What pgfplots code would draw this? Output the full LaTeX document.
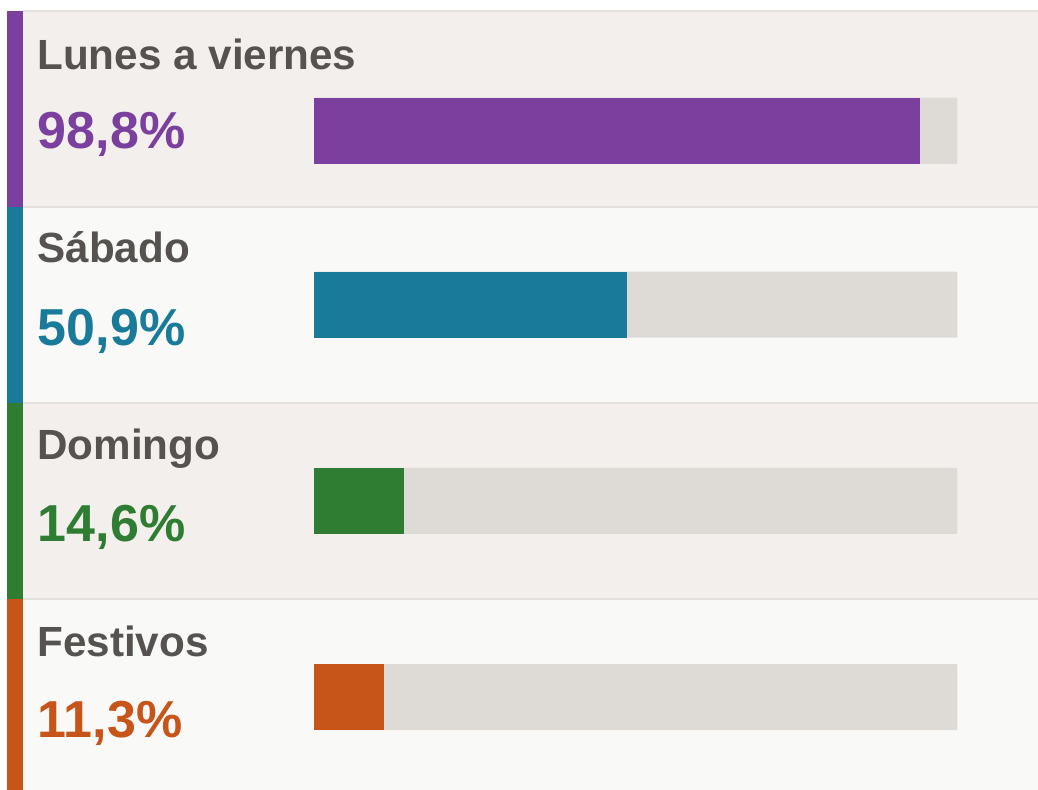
\documentclass[border=0pt]{standalone}
\usepackage{pgfplots}
\pgfplotsset{compat=1.18}
\usepackage{fontspec}
\setmainfont{Liberation Sans}
\definecolor{cPur}{HTML}{7B3F9E}
\definecolor{cTeal}{HTML}{1A7A99}
\definecolor{cGreen}{HTML}{2E7D32}
\definecolor{cOrange}{HTML}{C75418}
\definecolor{cText}{HTML}{555250}
\definecolor{bgA}{HTML}{F2EFEC}
\definecolor{bgB}{HTML}{F9F9F8}
\definecolor{track}{HTML}{DEDBD7}
\definecolor{sep}{HTML}{E5E1DD}
\begin{document}
\begin{tikzpicture}
\begin{scope}[x=0.5pt,y=-0.5pt]
\path[use as bounding box] (0,0) rectangle (1038,790);
\fill[white] (0,0) rectangle (1038,790);
\fill[bgA] (23,10.7) rectangle (1038,206.7);
\fill[bgB] (23,206.7) rectangle (1038,402.7);
\fill[bgA] (23,402.7) rectangle (1038,599);
\fill[bgB] (23,599) rectangle (1038,790);
\foreach \y in {10.7,206.7,402.7,599} \draw[sep,line width=1pt] (23,\y) -- (1038,\y);
\fill[cPur] (7.3,10.7) rectangle (23.3,206.7);
\fill[cTeal] (7.3,206.7) rectangle (23.3,402.7);
\fill[cGreen] (7.3,402.7) rectangle (23.3,599);
\fill[cOrange] (7.3,599) rectangle (23.3,790);
\end{scope}
\begin{axis}[at={(157.15pt,0pt)}, anchor=north west, scale only axis,
  width=321.5pt, height=395pt, xmin=0, xmax=104.8, ymin=-790, ymax=0,
  hide axis, clip=false]
\fill[track, rounded corners=0.5pt] (axis cs:0,-97.7) rectangle (axis cs:104.8,-164);
\fill[track, rounded corners=0.5pt] (axis cs:0,-271.7) rectangle (axis cs:104.8,-337.7);
\fill[track, rounded corners=0.5pt] (axis cs:0,-468) rectangle (axis cs:104.8,-534);
\fill[track, rounded corners=0.5pt] (axis cs:0,-664) rectangle (axis cs:104.8,-730);
\addplot[xbar, bar shift=0pt, bar width=66.3, fill=cPur, draw=none] coordinates {(98.8,-130.85)};
\addplot[xbar, bar shift=0pt, bar width=66, fill=cTeal, draw=none] coordinates {(50.9,-304.7)};
\addplot[xbar, bar shift=0pt, bar width=66, fill=cGreen, draw=none] coordinates {(14.6,-501)};
\addplot[xbar, bar shift=0pt, bar width=66, fill=cOrange, draw=none] coordinates {(11.3,-697)};
\end{axis}
\begin{scope}[x=0.5pt,y=-0.5pt]
\tikzset{tt/.style={anchor=base west, inner sep=0pt, text=cText, font=\fontsize{21.1}{25}\selectfont\bfseries},
         pp/.style={anchor=base west, inner sep=0pt, font=\fontsize{26}{30}\selectfont\bfseries}}
\node[tt] at (37,69.5) {Lunes a viernes};
\node[pp, text=cPur] at (37.5,149) {98,8\%};
\node[tt] at (37,263) {Sábado};
\node[pp, text=cTeal] at (37.5,345.7) {50,9\%};
\node[tt] at (37,459.3) {Domingo};
\node[pp, text=cGreen] at (37.5,541.7) {14,6\%};
\node[tt] at (37,656) {Festivos};
\node[pp, text=cOrange] at (37.5,737) {11,3\%};
\end{scope}
\end{tikzpicture}
\end{document}
